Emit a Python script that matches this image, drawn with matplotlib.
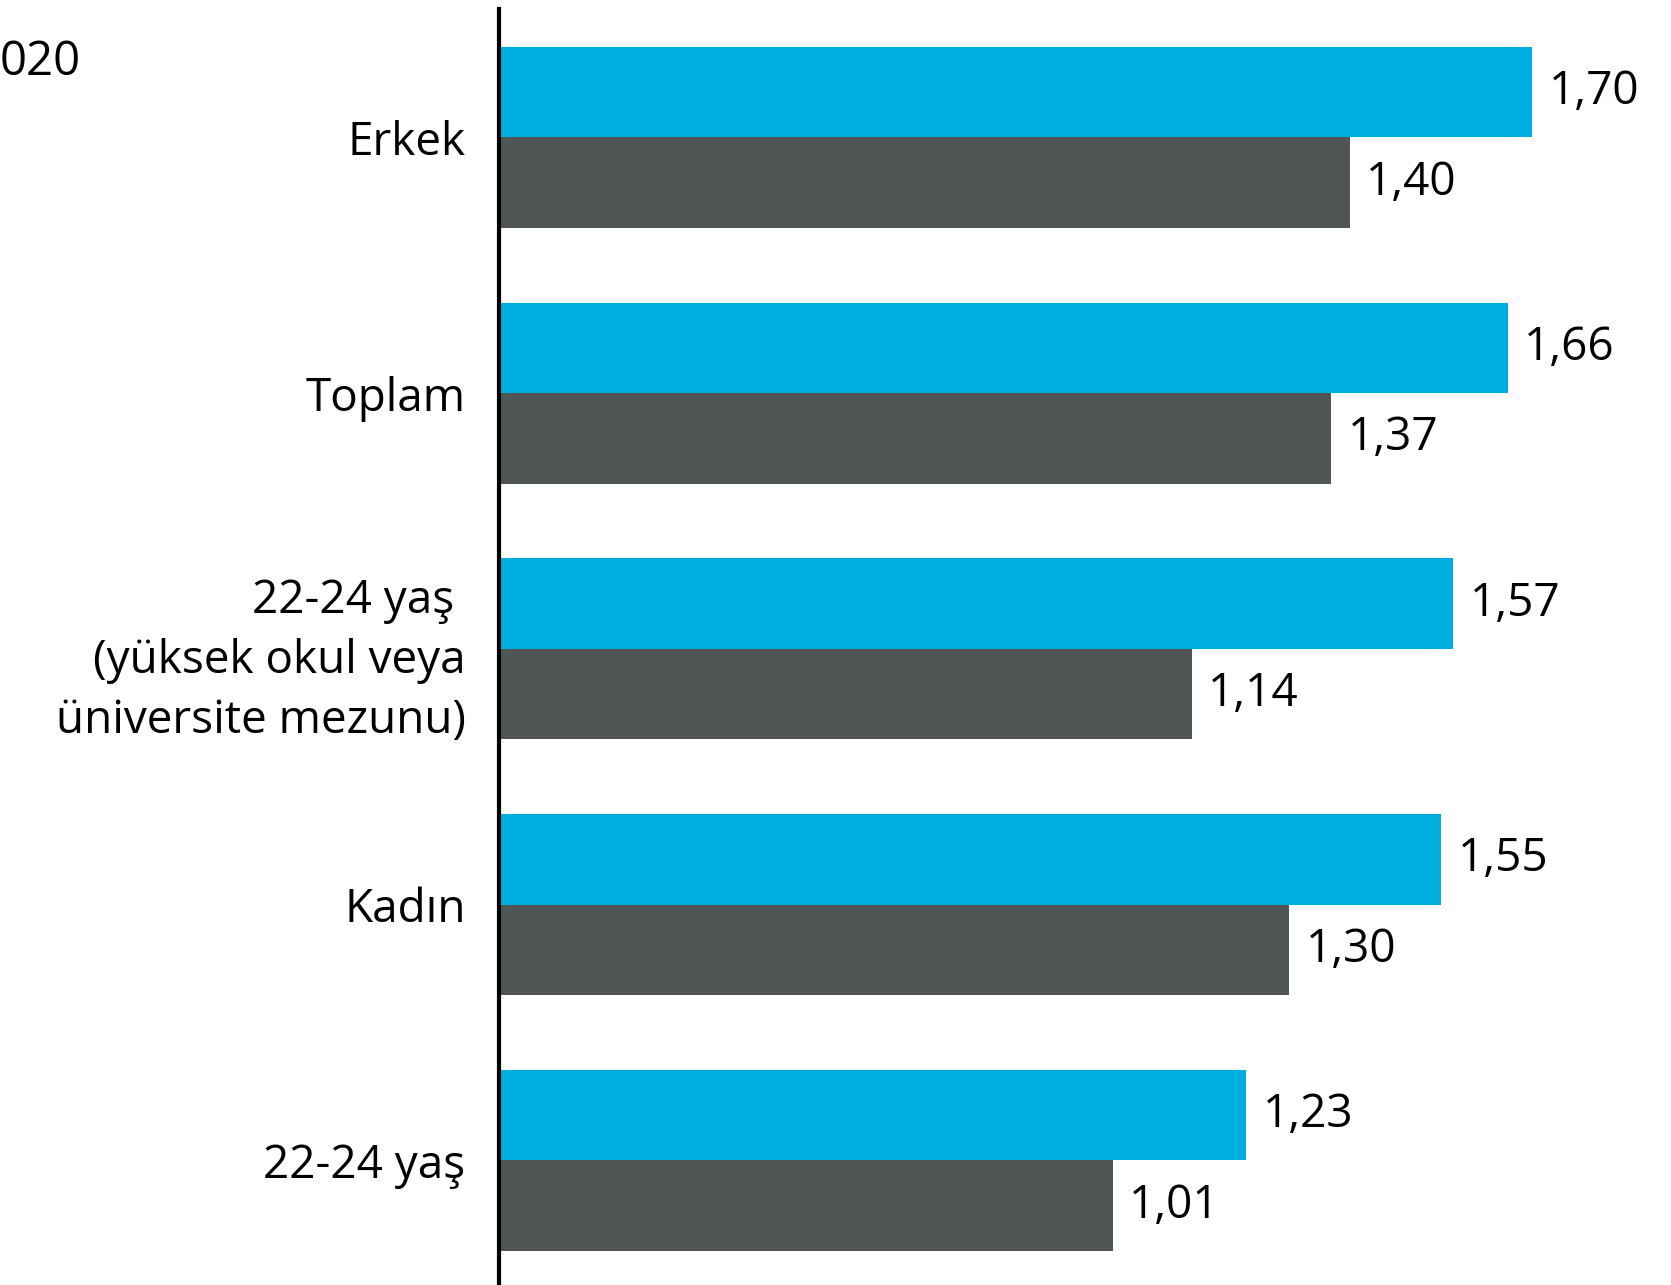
import matplotlib
matplotlib.use('Agg')
import matplotlib.pyplot as plt
import numpy as np

plt.rcParams['font.family'] = ['Open Sans', 'DejaVu Sans']

categories = ['Erkek', 'Toplam', '22-24 yaş \n(yüksek okul veya\nüniversite mezunu)', 'Kadın', '22-24 yaş']
series_blue = [1.70, 1.66, 1.57, 1.55, 1.23]
series_gray = [1.40, 1.37, 1.14, 1.30, 1.01]

BLUE = '#00ADE1'
GRAY = '#505555'
FS = 33


def fmt(v):
    return ('%.2f' % v).replace('.', ',')


fig = plt.figure(figsize=(16.71, 12.85), dpi=100)
ax = fig.add_axes([499 / 1671, 0.0, 1 - 499 / 1671, 1 - 9 / 1285])

y = np.arange(len(categories))
h = 0.354
b1 = ax.barh(y - h / 2, series_blue, height=h, color=BLUE)
b2 = ax.barh(y + h / 2, series_gray, height=h, color=GRAY)

ax.bar_label(b1, labels=[fmt(v) for v in series_blue], padding=12, fontsize=FS)
ax.bar_label(b2, labels=[fmt(v) for v in series_gray], padding=12, fontsize=FS)

ax.set_xlim(0, 1.929)
ax.set_ylim(4.487, -0.502)
ax.set_yticks(y)
ax.set_yticklabels(categories, fontsize=FS, linespacing=1.4)
ax.tick_params(axis='y', length=0, pad=24)
ax.set_xticks([])

for s in ['top', 'right', 'bottom']:
    ax.spines[s].set_visible(False)
ax.spines['left'].set_linewidth(3)
ax.spines['left'].set_color('black')

fig.text(0.0, 1 - 62 / 1285, '020', fontsize=34, ha='left', va='center')

fig.savefig('out.png', dpi=100)
